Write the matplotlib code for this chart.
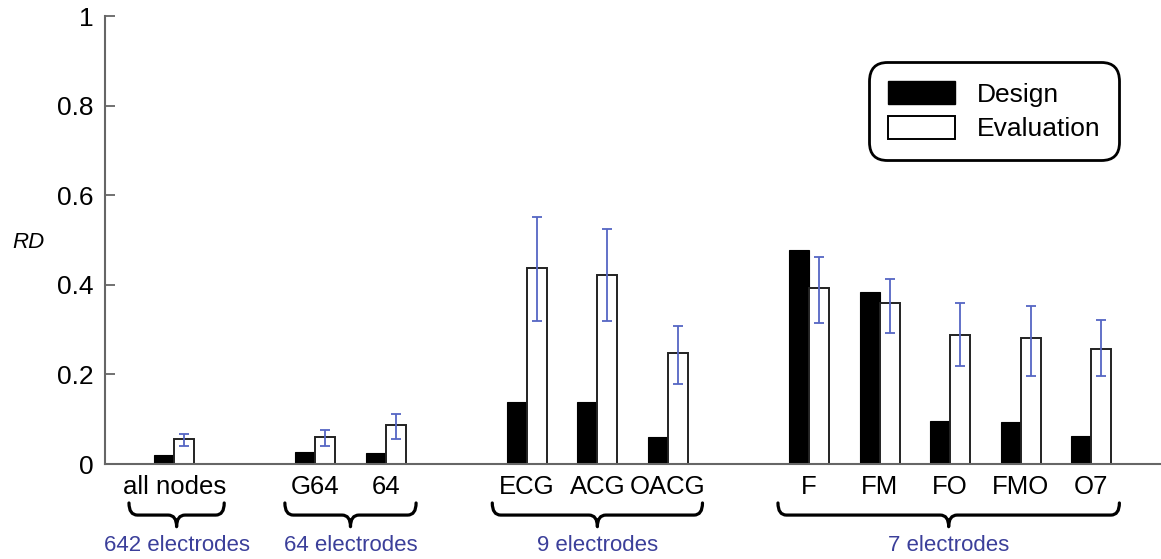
import numpy as np
import matplotlib
matplotlib.use("Agg")
import matplotlib.pyplot as plt
from matplotlib.patches import Patch, PathPatch
from matplotlib.path import Path

plt.rcParams["font.family"] = ["Liberation Sans", "DejaVu Sans"]

# Montage configurations, grouped by electrode count
labels = ["all nodes", "G64", "64", "ECG", "ACG", "OACG", "F", "FM", "FO", "FMO", "O7"]
positions = [0, 2, 3, 5, 6, 7, 9, 10, 11, 12, 13]
design = [0.020, 0.027, 0.024, 0.138, 0.138, 0.061, 0.478, 0.385, 0.097, 0.093, 0.063]
evaluation = [0.056, 0.060, 0.086, 0.437, 0.422, 0.248, 0.392, 0.359, 0.288, 0.281, 0.256]
eval_lo = [0.041, 0.041, 0.055, 0.319, 0.319, 0.178, 0.315, 0.292, 0.219, 0.196, 0.196]
eval_hi = [0.068, 0.076, 0.112, 0.552, 0.525, 0.307, 0.463, 0.414, 0.359, 0.352, 0.321]

group_names = ["642 electrodes", "64 electrodes", "9 electrodes", "7 electrodes"]
group_spans = [(-0.64, 0.71), (1.57, 3.43), (4.51, 7.49), (8.56, 13.40)]

BLUE_TXT = "#3b3f9a"
BLUE_ERR = "#5566c4"
SPINE = "#666666"

fig = plt.figure(figsize=(11.61, 5.59), dpi=100)
ax = fig.add_axes([105 / 1161, 95 / 559, 1056 / 1161, 448 / 559])

w = 0.284
x = np.array(positions, dtype=float)
ev = np.array(evaluation)
ax.bar(x - w / 2, design, width=w, color="black", edgecolor="black", linewidth=0.8, zorder=2)
ax.bar(x + w / 2, evaluation, width=w, color="white", edgecolor="#222222", linewidth=1.4, zorder=2)
yerr = np.vstack([ev - np.array(eval_lo), np.array(eval_hi) - ev])
ax.errorbar(x + w / 2, ev, yerr=yerr, fmt="none", ecolor=BLUE_ERR,
            elinewidth=1.3, capsize=3.5, capthick=1.3, zorder=3)

ax.set_xlim(-0.98, 13.99)
ax.set_ylim(0, 1)
ax.set_yticks([0, 0.2, 0.4, 0.6, 0.8, 1])
ax.set_yticklabels(["0", "0.2", "0.4", "0.6", "0.8", "1"])
ax.tick_params(axis="y", direction="in", length=7, width=1.3, color=SPINE,
               labelsize=19, pad=8)
ax.set_xticks(positions)
ax.set_xticklabels(labels)
ax.tick_params(axis="x", length=0, labelsize=18.5, pad=8)
for s in ("top", "right"):
    ax.spines[s].set_visible(False)
for s in ("left", "bottom"):
    ax.spines[s].set_color(SPINE)
    ax.spines[s].set_linewidth(1.5)

ax.text(-0.0725, 0.495, "RD", transform=ax.transAxes, style="italic",
        fontsize=16, ha="center", va="center")


def brace(x0, x1, y_top=-0.087, y_bot=-0.114, y_tip=-0.14):
    # curly bracket under a group of labels (x in data, y in axes fraction)
    xm = (x0 + x1) / 2
    r = 0.12
    verts = [
        (x0, y_top), (x0, y_bot), (x0 + r, y_bot),
        (xm - r, y_bot), (xm, y_bot), (xm, y_tip),
        (xm, y_bot), (xm + r, y_bot),
        (x1 - r, y_bot), (x1, y_bot), (x1, y_top),
    ]
    codes = [Path.MOVETO, Path.CURVE3, Path.CURVE3,
             Path.LINETO, Path.CURVE3, Path.CURVE3,
             Path.CURVE3, Path.CURVE3,
             Path.LINETO, Path.CURVE3, Path.CURVE3]
    p = PathPatch(Path(verts, codes), transform=ax.get_xaxis_transform(),
                  fill=False, lw=2.3, edgecolor="black", clip_on=False,
                  capstyle="round", joinstyle="round")
    ax.add_patch(p)
    return xm


for name, (x0, x1) in zip(group_names, group_spans):
    xm = brace(x0, x1)
    ax.text(xm, -0.183, name, transform=ax.get_xaxis_transform(),
            ha="center", va="center", color=BLUE_TXT, fontsize=16)

handles = [Patch(facecolor="black", edgecolor="black", label="Design"),
           Patch(facecolor="white", edgecolor="black", linewidth=1.4, label="Evaluation")]
leg = ax.legend(handles=handles, loc="upper left", bbox_to_anchor=(0.7235, 0.897),
                borderaxespad=0, fontsize=19, handlelength=2.55, handleheight=0.95,
                handletextpad=0.8, labelspacing=0.35, borderpad=0.72,
                fancybox=True, framealpha=1, edgecolor="black")
leg.get_frame().set_linewidth(2.0)
leg.get_frame().set_boxstyle("round,pad=0,rounding_size=0.7")

fig.savefig("out.png", dpi=100)
